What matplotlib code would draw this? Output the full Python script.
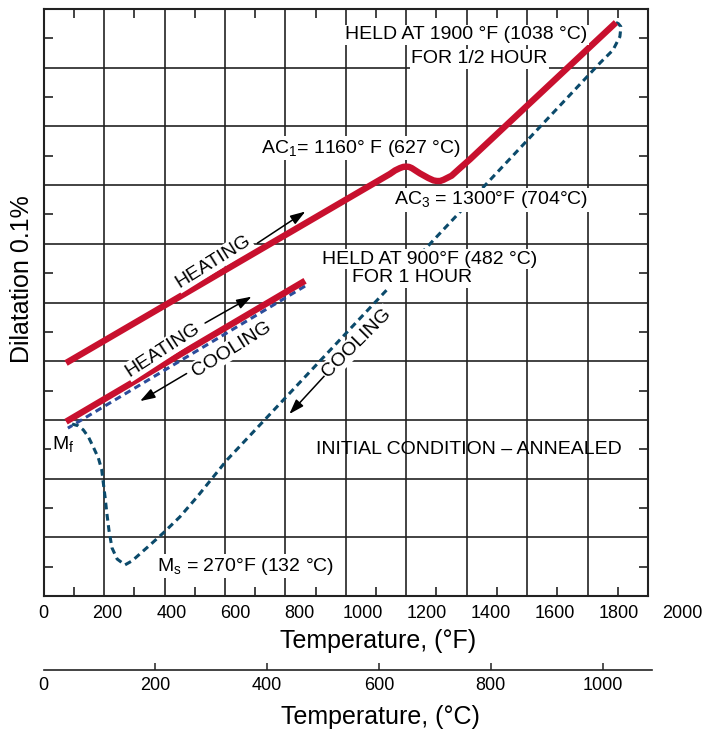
#!/usr/bin/env python3
"""Dilatation curve of a tool steel: heating / cooling cycles."""

import matplotlib

matplotlib.use("Agg")
import matplotlib.pyplot as plt
import numpy as np
from matplotlib import rcParams

rcParams.update(
    {
        "font.family": ["Liberation Sans", "DejaVu Sans"],
        "mathtext.default": "regular",
        "axes.linewidth": 1.5,
    }
)

RED = "#c8102e"
BLUE = "#2b4d9b"
TEAL = "#0b4a6b"
INK = "#222222"

# heating to 900 F (lower solid red)
heat1_f = [74, 865]
heat1_d = [2.97, 5.37]

# cooling from 900 F (blue dashed)
cool1_f = [865, 80]
cool1_d = [5.28, 2.86]

# heating to 1900 F (upper solid red), AC1 / AC3 bump
heat2_f = [74, 1146, 1163, 1179, 1190, 1199, 1209, 1218, 1245, 1273, 1290,
           1301, 1312, 1323, 1350, 1378, 1411, 1444, 1894]
heat2_d = [3.97, 7.19, 7.25, 7.29, 7.31, 7.315, 7.31, 7.29, 7.20, 7.12, 7.08,
           7.07, 7.07, 7.09, 7.16, 7.29, 7.44, 7.60, 9.77]

# cooling from 1900 F (teal dashed) through Ms and Mf
cool2_f = [1894, 1902, 1910, 1909, 1907, 1884, 1841, 607, 508, 451, 395, 352,
           319, 293, 269, 243, 226, 216, 209, 203, 196, 192, 181, 164, 148,
           131, 114, 94]
cool2_d = [9.77, 9.75, 9.70, 9.63, 9.53, 9.30, 9.08, 2.32, 1.69, 1.35, 1.07,
           0.87, 0.72, 0.60, 0.53, 0.63, 0.82, 1.12, 1.41, 1.69, 1.98, 2.15,
           2.35, 2.54, 2.71, 2.83, 2.90, 2.93]

# arrows: (start F, start d, end F, end d)
arrows = [
    (707, 6.01, 866, 6.55),
    (534, 4.65, 688, 5.10),
    (473, 3.79, 319, 3.32),
    (931, 3.76, 813, 3.10),
]

f_ticks = list(range(0, 2001, 200))
c_ticks = list(range(0, 1001, 200))
# the printed F labels run slightly wider than the grid
F_LABEL_STRETCH = 63.9 / 60.43

fig = plt.figure(figsize=(7.1, 7.31), dpi=100)
ax = fig.add_axes([43.7 / 710, 135 / 731, 604.3 / 710, 587 / 731])

ax.set_xlim(0, 2000)
ax.set_ylim(0, 10)
ax.set_xticks(f_ticks)
ax.set_yticks(np.arange(0, 11))
ax.set_xticks(np.arange(100, 2000, 200), minor=True)
ax.set_yticks(np.arange(0.5, 10, 1), minor=True)
ax.tick_params(which="major", length=0, labelbottom=False, labelleft=False)
ax.tick_params(which="minor", direction="in", length=6.5, width=1.2,
               color=INK, top=True, bottom=True, left=True, right=True)
ax.grid(True, which="major", color=INK, lw=1.2)
ax.set_axisbelow(True)
for sp in ax.spines.values():
    sp.set_color(INK)

ax.plot(heat1_f, heat1_d, color=RED, lw=4.6, solid_capstyle="butt", zorder=3)
ax.plot(heat2_f, heat2_d, color=RED, lw=4.6, solid_capstyle="butt",
        solid_joinstyle="round", zorder=3)
ax.plot(cool1_f, cool1_d, color=BLUE, lw=2.2, ls=(0, (2.2, 1.5)), zorder=2)
ax.plot(cool2_f, cool2_d, color=TEAL, lw=2.2, ls=(0, (2.2, 1.5)), zorder=2)

for x0, y0, x1, y1 in arrows:
    ax.annotate("", xy=(x1, y1), xytext=(x0, y0),
                arrowprops=dict(arrowstyle="-|>,head_length=0.6,head_width=0.2",
                                color="k", lw=1.1, mutation_scale=15,
                                shrinkA=0, shrinkB=0))

box = dict(facecolor="white", edgecolor="none", pad=1.0)
fs = 14
ax.text(1399, 9.56, "HELD AT 1900 °F (1038 °C)", fontsize=fs,
        ha="center", va="center", bbox=box, zorder=4)
ax.text(1441, 9.15, "FOR 1/2 HOUR", fontsize=fs, ha="center", va="center",
        bbox=box, zorder=4)
ax.text(720, 7.63, "AC$_1$= 1160° F (627 °C)", fontsize=fs, ha="left",
        va="center", bbox=box, zorder=4)
ax.text(1482, 6.75, "AC$_3$ = 1300°F (704°C)", fontsize=fs, ha="center",
        va="center", bbox=box, zorder=4)
ax.text(1278, 5.74, "HELD AT 900°F (482 °C)", fontsize=fs, ha="center",
        va="center", bbox=box, zorder=4)
ax.text(1219, 5.42, "FOR 1 HOUR", fontsize=fs, ha="center", va="center",
        bbox=box, zorder=4)
ax.text(1408, 2.50, "INITIAL CONDITION – ANNEALED", fontsize=fs,
        ha="center", va="center", zorder=4)
ax.text(375, 0.51, "M$_s$ = 270°F (132 °C)", fontsize=fs, ha="left",
        va="center", bbox=box, zorder=4)
ax.text(28, 2.59, "M$_f$", fontsize=fs, ha="left", va="center", bbox=box,
        zorder=4)
ax.text(561, 5.69, "HEATING", fontsize=fs, rotation=32, ha="center",
        va="center", rotation_mode="anchor", bbox=box, zorder=4)
ax.text(395, 4.19, "HEATING", fontsize=fs, rotation=33, ha="center",
        va="center", rotation_mode="anchor", bbox=box, zorder=4)
ax.text(623, 4.21, "COOLING", fontsize=fs, rotation=32, ha="center",
        va="center", rotation_mode="anchor", bbox=box, zorder=4)
ax.text(1037, 4.31, "COOLING", fontsize=fs, rotation=45, ha="center",
        va="center", rotation_mode="anchor", bbox=box, zorder=4)

# F tick labels
for t in f_ticks:
    ax.text(t * F_LABEL_STRETCH, -0.029, str(t), fontsize=13, ha="center",
            va="center", transform=ax.get_xaxis_transform(), clip_on=False)

ax.set_xlabel("Temperature, (°F)", fontsize=18)
ax.xaxis.set_label_coords(0.553, -0.0767)
ax.xaxis.label.set_va("center")
ax.set_ylabel("Dilatation 0.1%", fontsize=18)
ax.yaxis.set_label_coords(-0.036, 0.54)
ax.yaxis.label.set_va("center")

# Celsius scale below
axc = fig.add_axes([43.7 / 710, 61 / 731, 608 / 710, 0.0001])
axc.set_xlim(0, 1088)
axc.set_yticks([])
for side in ("top", "left", "right"):
    axc.spines[side].set_visible(False)
axc.spines["bottom"].set_linewidth(1.2)
axc.spines["bottom"].set_color(INK)
axc.set_xticks(c_ticks)
axc.tick_params(axis="x", direction="in", length=5, width=1.1, color=INK,
                labelsize=13, pad=5)
axc.xaxis.get_major_ticks()[0].tick1line.set_visible(False)
axc.set_xlabel("Temperature, (°C)", fontsize=18)
axc.xaxis.set_label_coords(380 / 710, (731 - 717) / 731,
                           transform=fig.transFigure)
axc.xaxis.label.set_va("center")

fig.savefig("out.png", dpi=100)
